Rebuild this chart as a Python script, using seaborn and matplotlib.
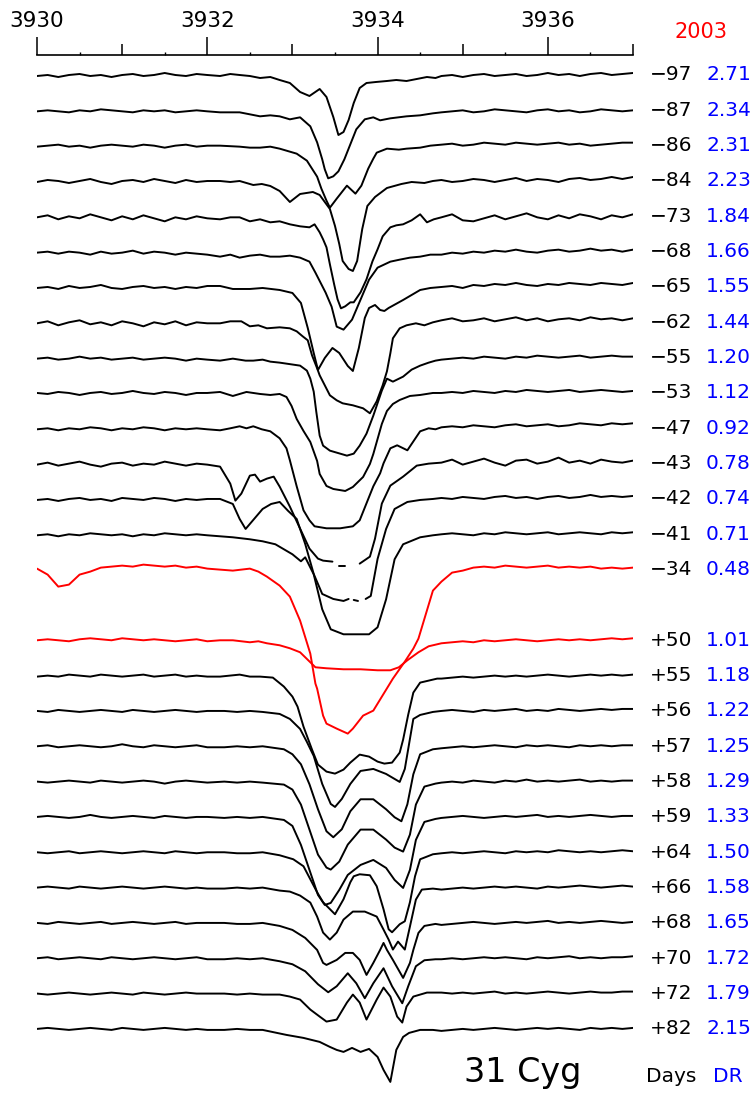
import numpy as np
import pandas as pd
import matplotlib
matplotlib.use("Agg")
import matplotlib.pyplot as plt
import seaborn as sns

sns.set_theme(style="white")
plt.rcParams['font.family'] = ['DejaVu Sans']

# Ca II K region of 31 Cyg, residual flux in percent of the continuum.
# Each spectrum: blue continuum (on WL_LEFT), line region (WL_*, F_*; None = data gap),
# red continuum (on WL_RIGHT).
WL_LEFT = [3930.0 + 0.125 * k for k in range(17)]     # 3930.000 ... 3932.000
WL_RIGHT = [3934.75 + 0.125 * k for k in range(19)]   # 3934.750 ... 3937.000

L_M97 = [99, 100, 98, 100, 101, 99, 100, 98, 100, 101, 99, 100, 102, 100, 99, 101, 100]
WL_M97 = [3932.15, 3932.27, 3932.38, 3932.50, 3932.62, 3932.74, 3932.85, 3932.97, 3933.09, 3933.20, 3933.32, 3933.40, 3933.48, 3933.54, 3933.60, 3933.66, 3933.72, 3933.79, 3933.87, 3933.98, 3934.11, 3934.22, 3934.34, 3934.46, 3934.58, 3934.68]
F_M97 = [99, 101, 100, 99, 97, 98, 95, 92, 83, 79, 86, 78, 58, 40, 43, 55, 72, 87, 92, 93, 94, 95, 94, 96, 98, 97]
R_M97 = [99, 100, 98, 100, 101, 99, 100, 101, 99, 100, 102, 100, 101, 99, 101, 102, 100, 101, 102]

L_M87 = [99, 100, 99, 98, 100, 99, 101, 100, 99, 98, 100, 99, 100, 98, 99, 100, 99]
WL_M87 = [3932.15, 3932.38, 3932.50, 3932.62, 3932.74, 3932.85, 3932.97, 3933.09, 3933.21, 3933.29, 3933.35, 3933.38, 3933.42, 3933.48, 3933.54, 3933.61, 3933.68, 3933.75, 3933.85, 3933.95, 3934.03, 3934.15, 3934.34, 3934.50, 3934.65]
F_M87 = [98, 98, 96, 94, 95, 94, 91, 93, 84, 68, 51, 41, 32, 34, 39, 51, 66, 81, 91, 93, 90, 92, 94, 95, 97]
R_M87 = [98, 99, 100, 98, 99, 101, 100, 99, 98, 100, 101, 99, 100, 98, 99, 101, 100, 99, 100]

L_M86 = [99, 100, 101, 99, 100, 98, 100, 101, 100, 99, 101, 100, 98, 100, 101, 99, 100]
WL_M86 = [3932.15, 3932.38, 3932.50, 3932.62, 3932.74, 3932.85, 3933.05, 3933.17, 3933.29, 3933.34, 3933.40, 3933.44, 3933.52, 3933.64, 3933.74, 3933.81, 3933.89, 3933.95, 3933.99, 3934.11, 3934.25, 3934.34, 3934.50, 3934.62]
F_M86 = [100, 99, 98, 98, 99, 97, 92, 85, 69, 57, 45, 38, 47, 60, 52, 60, 77, 87, 93, 97, 96, 97, 98, 100]
R_M86 = [101, 102, 100, 101, 103, 102, 101, 103, 102, 101, 102, 103, 101, 102, 100, 101, 102, 103, 103]

L_M84 = [99, 101, 100, 98, 100, 102, 99, 97, 100, 101, 99, 102, 100, 98, 101, 99, 100]
WL_M84 = [3932.15, 3932.27, 3932.38, 3932.46, 3932.54, 3932.64, 3932.74, 3932.85, 3932.97, 3933.09, 3933.24, 3933.32, 3933.38, 3933.44, 3933.50, 3933.55, 3933.59, 3933.66, 3933.71, 3933.76, 3933.82, 3933.88, 3933.97, 3934.11, 3934.28, 3934.40, 3934.55, 3934.65]
F_M84 = [100, 99, 100, 98, 96, 97, 95, 90, 79, 87, 89, 86, 79, 72, 55, 37, 20, 12, 10, 20, 52, 75, 84, 93, 97, 99, 98, 100]
R_M84 = [101, 99, 100, 102, 101, 99, 101, 103, 100, 102, 101, 99, 102, 103, 101, 102, 104, 102, 104]

L_M73 = [99, 101, 97, 100, 98, 102, 99, 96, 100, 97, 101, 98, 95, 99, 97, 100, 98]
WL_M73 = [3932.15, 3932.27, 3932.38, 3932.50, 3932.62, 3932.74, 3932.85, 3932.97, 3933.09, 3933.20, 3933.26, 3933.32, 3933.36, 3933.40, 3933.44, 3933.49, 3933.53, 3933.57, 3933.62, 3933.68, 3933.72, 3933.80, 3933.87, 3933.94, 3934.00, 3934.06, 3934.15, 3934.22, 3934.30, 3934.40, 3934.50, 3934.58, 3934.66]
F_M73 = [97, 99, 99, 95, 97, 94, 95, 92, 90, 89, 92, 84, 77, 69, 52, 32, 17, 8, 10, 14, 14, 24, 37, 55, 67, 80, 89, 91, 92, 96, 102, 94, 97]
R_M73 = [99, 102, 96, 95, 98, 101, 97, 100, 103, 99, 97, 101, 98, 102, 100, 97, 101, 99, 102]

L_M68 = [99, 100, 98, 100, 99, 97, 100, 98, 99, 101, 98, 100, 99, 97, 99, 98, 97]
WL_M68 = [3932.15, 3932.27, 3932.38, 3932.50, 3932.62, 3932.74, 3932.85, 3932.97, 3933.09, 3933.20, 3933.27, 3933.39, 3933.46, 3933.52, 3933.60, 3933.70, 3933.80, 3933.90, 3934.00, 3934.15, 3934.26, 3934.38, 3934.50, 3934.62]
F_M68 = [95, 97, 94, 96, 97, 95, 95, 96, 94, 90, 79, 59, 45, 25, 22, 32, 52, 72, 84, 90, 92, 94, 95, 97]
R_M68 = [97, 99, 98, 100, 99, 101, 100, 102, 100, 99, 101, 102, 100, 101, 103, 101, 102, 100, 102]

L_M65 = [99, 100, 98, 101, 99, 100, 102, 99, 98, 100, 101, 99, 100, 98, 100, 99, 101]
WL_M65 = [3932.15, 3932.30, 3932.50, 3932.65, 3932.85, 3933.00, 3933.10, 3933.18, 3933.25, 3933.30, 3933.38, 3933.47, 3933.55, 3933.65, 3933.71, 3933.78, 3933.85, 3933.90, 3933.97, 3934.03, 3934.08, 3934.13, 3934.30, 3934.42, 3934.50, 3934.62]
F_M65 = [101, 98, 98, 99, 97, 94, 84, 59, 34, 17, 29, 39, 34, 21, 16, 39, 69, 79, 82, 77, 76, 79, 87, 93, 97, 99]
R_M65 = [100, 101, 99, 102, 101, 103, 102, 104, 102, 101, 103, 102, 104, 103, 102, 104, 103, 102, 104]

L_M62 = [99, 101, 97, 100, 102, 98, 100, 97, 101, 99, 96, 100, 98, 101, 97, 100, 99]
WL_M62 = [3932.15, 3932.27, 3932.40, 3932.50, 3932.60, 3932.70, 3932.85, 3932.97, 3933.05, 3933.12, 3933.18, 3933.23, 3933.29, 3933.32, 3933.44, 3933.52, 3933.59, 3933.71, 3933.83, 3933.91, 3933.99, 3934.06, 3934.11, 3934.15, 3934.18, 3934.26, 3934.34, 3934.45, 3934.55, 3934.65]
F_M62 = [99, 101, 101, 96, 97, 94, 95, 94, 91, 86, 82, 67, 54, 47, 27, 22, 19, 17, 14, 9, 21, 37, 51, 69, 84, 94, 97, 99, 97, 100]
R_M62 = [102, 104, 101, 102, 104, 101, 103, 105, 102, 104, 101, 103, 104, 102, 105, 103, 104, 102, 104]

L_M55 = [99, 100, 98, 99, 101, 99, 100, 98, 99, 100, 98, 99, 100, 99, 97, 99, 98]
WL_M55 = [3932.15, 3932.30, 3932.45, 3932.54, 3932.65, 3932.74, 3932.85, 3932.93, 3933.09, 3933.17, 3933.21, 3933.25, 3933.28, 3933.32, 3933.36, 3933.44, 3933.56, 3933.64, 3933.72, 3933.79, 3933.87, 3933.95, 3933.99, 3934.05, 3934.11, 3934.18, 3934.30, 3934.40, 3934.50, 3934.60, 3934.68]
F_M55 = [97, 99, 97, 97, 98, 96, 95, 94, 92, 87, 79, 66, 46, 22, 12, 7, 4, 2, 4, 12, 24, 42, 52, 67, 79, 76, 81, 88, 92, 95, 97]
R_M55 = [98, 99, 100, 99, 101, 100, 99, 101, 100, 102, 101, 100, 101, 102, 100, 101, 102, 101, 101]

L_M53 = [100, 99, 101, 100, 98, 100, 101, 99, 100, 102, 100, 99, 101, 100, 98, 100, 100]
WL_M53 = [3932.15, 3932.30, 3932.46, 3932.62, 3932.74, 3932.85, 3932.93, 3932.99, 3933.05, 3933.13, 3933.21, 3933.29, 3933.32, 3933.40, 3933.48, 3933.62, 3933.71, 3933.83, 3933.91, 3933.95, 3934.00, 3934.05, 3934.11, 3934.18, 3934.26, 3934.38, 3934.50, 3934.65]
F_M53 = [101, 97, 101, 99, 98, 99, 96, 87, 74, 62, 51, 32, 19, 7, 4, 2, 6, 16, 29, 39, 54, 69, 82, 89, 93, 97, 98, 100]
R_M53 = [100, 101, 100, 102, 101, 100, 102, 101, 103, 102, 101, 102, 103, 101, 102, 103, 102, 101, 102]

L_M47 = [99, 100, 98, 100, 99, 101, 100, 98, 100, 99, 101, 100, 98, 100, 99, 100, 99]
WL_M47 = [3932.15, 3932.27, 3932.38, 3932.46, 3932.54, 3932.64, 3932.74, 3932.85, 3932.93, 3932.97, 3933.05, 3933.13, 3933.20, 3933.26, 3933.40, 3933.56, 3933.71, 3933.79, 3933.87, 3933.95, 3934.03, 3934.07, 3934.15, 3934.23, 3934.35, 3934.50, 3934.60, 3934.68]
F_M47 = [98, 100, 102, 100, 102, 99, 97, 90, 80, 68, 42, 18, 8, 2, 0, 0, 2, 8, 25, 42, 55, 65, 80, 83, 78, 97, 100, 99]
R_M47 = [101, 102, 101, 103, 102, 101, 103, 104, 102, 103, 104, 102, 103, 105, 104, 103, 105, 104, 105]

L_M43 = [99, 101, 98, 100, 102, 99, 97, 100, 101, 98, 100, 99, 102, 100, 98, 100, 99]
WL_M43 = [3932.15, 3932.27, 3932.33, 3932.40, 3932.50, 3932.56, 3932.62, 3932.70, 3932.78, 3932.85, 3932.97, 3933.09, 3933.20, 3933.30, 3933.36, 3933.47, None, 3933.55, 3933.62, None, 3933.79, 3933.91, 3933.97, 3934.05, 3934.15, 3934.30, 3934.46, 3934.60]
F_M43 = [97, 80, 63, 70, 88, 89, 82, 85, 87, 77, 57, 35, 15, 5, 3, 2, None, -2, -2, None, 0, 7, 25, 60, 78, 87, 98, 100]
R_M43 = [101, 104, 99, 102, 105, 101, 98, 103, 104, 100, 102, 106, 101, 103, 100, 104, 102, 101, 103]

L_M42 = [99, 100, 98, 100, 101, 99, 100, 98, 101, 100, 99, 101, 100, 98, 100, 99, 100]
WL_M42 = [3932.15, 3932.30, 3932.38, 3932.45, 3932.55, 3932.65, 3932.75, 3932.85, 3932.95, 3933.05, 3933.15, 3933.25, 3933.35, 3933.48, 3933.60, 3933.66, None, 3933.72, 3933.77, None, 3933.86, 3933.92, 3934.00, 3934.10, 3934.20, 3934.35, 3934.50, 3934.65]
F_M42 = [100, 95, 80, 70, 80, 90, 95, 97, 88, 80, 55, 25, 5, 0, -2, 0, None, -1, -2, None, 0, 3, 40, 70, 90, 97, 99, 100]
R_M42 = [101, 100, 102, 101, 100, 102, 103, 101, 102, 100, 102, 103, 101, 102, 104, 102, 103, 102, 103]

L_M41 = [99, 100, 98, 100, 99, 101, 100, 99, 100, 98, 100, 99, 101, 100, 99, 100, 99]
WL_M41 = [3932.15, 3932.30, 3932.50, 3932.65, 3932.80, 3933.00, 3933.10, 3933.15, 3933.25, 3933.35, 3933.45, 3933.60, 3933.90, 3934.00, 3934.10, 3934.20, 3934.30, 3934.50, 3934.65]
F_M41 = [98, 97, 95, 93, 90, 80, 73, 77, 60, 25, 5, 0, 0, 7, 35, 75, 90, 97, 99]
R_M41 = [100, 101, 100, 99, 101, 100, 102, 101, 100, 101, 102, 100, 101, 102, 101, 100, 102, 101, 102]

L_M34 = [101, 95, 83, 85, 95, 98, 102, 103, 104, 103, 105, 104, 103, 104, 102, 103, 101]
WL_M34 = [3932.15, 3932.30, 3932.40, 3932.50, 3932.60, 3932.70, 3932.85, 3932.97, 3933.09, 3933.21, 3933.27, 3933.29, 3933.36, 3933.40, 3933.52, 3933.65, 3933.71, 3933.83, 3933.95, 3934.18, 3934.32, 3934.42, 3934.48, 3934.65]
F_M34 = [100, 99, 100, 101, 98, 93, 84, 73, 49, 16, -14, -19, -46, -54, -59, -64, -59, -46, -41, -9, 8, 21, 31, 79]
R_M34 = [88, 97, 99, 102, 103, 102, 104, 103, 102, 103, 104, 102, 103, 102, 103, 101, 102, 101, 102]

L_P50 = [100, 101, 100, 99, 101, 102, 101, 100, 102, 101, 100, 101, 100, 99, 100, 101, 99]
WL_P50 = [3932.15, 3932.30, 3932.50, 3932.60, 3932.70, 3932.85, 3932.97, 3933.09, 3933.21, 3933.27, 3933.40, 3933.60, 3933.80, 3934.00, 3934.15, 3934.25, 3934.35, 3934.48, 3934.60, 3934.70]
F_P50 = [100, 100, 98, 99, 97, 95, 92, 88, 78, 73, 72, 71, 71, 70, 70, 73, 80, 88, 94, 96]
R_P50 = [97, 98, 99, 98, 100, 99, 100, 101, 100, 99, 100, 101, 100, 101, 100, 101, 102, 101, 102]

L_P55 = [99, 100, 99, 101, 100, 99, 101, 100, 99, 100, 101, 99, 100, 101, 99, 100, 99]
WL_P55 = [3932.15, 3932.38, 3932.50, 3932.62, 3932.77, 3932.90, 3933.00, 3933.06, 3933.13, 3933.23, 3933.30, 3933.40, 3933.50, 3933.60, 3933.68, 3933.79, 3933.90, 3934.00, 3934.08, 3934.17, 3934.26, 3934.30, 3934.36, 3934.42, 3934.50, 3934.60, 3934.70]
F_P55 = [99, 101, 99, 99, 98, 89, 79, 69, 49, 26, 11, 4, 2, 6, 13, 21, 19, 14, 12, 13, 23, 36, 61, 83, 93, 95, 97]
R_P55 = [97, 98, 99, 98, 99, 100, 99, 100, 99, 100, 101, 100, 99, 100, 101, 100, 101, 100, 101]

L_P56 = [100, 99, 101, 100, 99, 100, 101, 100, 99, 101, 100, 99, 100, 101, 100, 99, 100]
WL_P56 = [3932.20, 3932.35, 3932.50, 3932.65, 3932.85, 3932.97, 3933.09, 3933.17, 3933.25, 3933.35, 3933.45, 3933.50, 3933.58, 3933.68, 3933.80, 3933.95, 3934.10, 3934.20, 3934.26, 3934.32, 3934.38, 3934.42, 3934.50, 3934.65]
F_P56 = [100, 99, 100, 99, 97, 92, 82, 69, 55, 27, 7, 4, 12, 27, 40, 42, 37, 32, 29, 42, 72, 92, 96, 99]
R_P56 = [100, 101, 100, 99, 101, 100, 101, 102, 100, 101, 100, 102, 101, 100, 101, 102, 101, 102, 102]

L_P57 = [100, 101, 99, 100, 101, 100, 99, 100, 102, 100, 99, 101, 100, 99, 100, 101, 99]
WL_P57 = [3932.20, 3932.35, 3932.50, 3932.65, 3932.90, 3933.00, 3933.10, 3933.20, 3933.30, 3933.40, 3933.48, 3933.58, 3933.68, 3933.80, 3933.95, 3934.10, 3934.20, 3934.28, 3934.35, 3934.42, 3934.50, 3934.65]
F_P57 = [99, 100, 99, 100, 97, 92, 82, 62, 37, 15, 9, 17, 35, 47, 47, 37, 29, 25, 42, 72, 92, 97]
R_P57 = [98, 99, 100, 99, 100, 101, 100, 99, 101, 100, 101, 100, 99, 101, 100, 101, 100, 101, 101]

L_P58 = [100, 99, 100, 101, 100, 99, 101, 100, 99, 100, 101, 100, 98, 100, 101, 100, 99]
WL_P58 = [3932.20, 3932.35, 3932.50, 3932.65, 3932.90, 3933.00, 3933.10, 3933.20, 3933.30, 3933.40, 3933.45, 3933.55, 3933.65, 3933.80, 3933.95, 3934.10, 3934.20, 3934.30, 3934.38, 3934.45, 3934.55, 3934.68]
F_P58 = [100, 99, 100, 99, 97, 92, 77, 52, 27, 14, 12, 20, 37, 52, 52, 42, 34, 30, 47, 77, 95, 98]
R_P58 = [99, 100, 99, 101, 100, 99, 101, 100, 102, 100, 101, 100, 101, 102, 100, 101, 100, 101, 101]

L_P59 = [100, 101, 100, 99, 100, 102, 100, 99, 100, 101, 100, 99, 101, 100, 99, 100, 100]
WL_P59 = [3932.20, 3932.35, 3932.50, 3932.65, 3932.90, 3933.00, 3933.10, 3933.20, 3933.30, 3933.38, 3933.45, 3933.55, 3933.65, 3933.80, 3933.95, 3934.10, 3934.20, 3934.30, 3934.38, 3934.45, 3934.55, 3934.68]
F_P59 = [99, 100, 99, 100, 97, 91, 72, 47, 22, 12, 14, 27, 42, 52, 57, 49, 37, 29, 47, 77, 95, 98]
R_P59 = [99, 100, 101, 100, 99, 100, 101, 100, 101, 102, 100, 101, 100, 101, 102, 101, 100, 101, 101]

L_P64 = [100, 99, 100, 101, 99, 100, 101, 100, 99, 100, 101, 100, 99, 101, 100, 99, 100]
WL_P64 = [3932.20, 3932.35, 3932.50, 3932.65, 3932.85, 3933.01, 3933.13, 3933.21, 3933.29, 3933.36, 3933.50, 3933.60, 3933.68, 3933.72, 3933.79, 3933.91, 3933.99, 3934.07, 3934.13, 3934.17, 3934.26, 3934.32, 3934.38, 3934.44, 3934.50, 3934.65]
F_P64 = [100, 99, 99, 100, 97, 93, 86, 73, 60, 50, 38, 53, 70, 76, 78, 77, 66, 43, 23, 20, 28, 31, 50, 76, 93, 98]
R_P64 = [99, 100, 99, 100, 101, 100, 99, 101, 100, 101, 100, 102, 101, 100, 101, 100, 101, 102, 101]

L_P66 = [100, 101, 100, 99, 101, 100, 99, 100, 101, 100, 99, 100, 101, 100, 99, 100, 99]
WL_P66 = [3932.20, 3932.35, 3932.50, 3932.65, 3932.85, 3932.97, 3933.09, 3933.21, 3933.29, 3933.36, 3933.44, 3933.52, 3933.60, 3933.71, 3933.85, 3933.99, 3934.07, 3934.13, 3934.18, 3934.24, 3934.32, 3934.38, 3934.45, 3934.52, 3934.65]
F_P66 = [99, 100, 99, 100, 97, 96, 92, 85, 71, 55, 48, 55, 68, 76, 76, 71, 58, 48, 38, 46, 38, 61, 88, 98, 99]
R_P66 = [98, 99, 100, 99, 100, 101, 100, 101, 100, 99, 101, 100, 101, 102, 101, 100, 101, 102, 101]

L_P68 = [100, 99, 101, 100, 99, 100, 101, 99, 100, 101, 100, 99, 100, 101, 99, 100, 100]
WL_P68 = [3932.20, 3932.35, 3932.50, 3932.65, 3932.85, 3933.00, 3933.15, 3933.29, 3933.36, 3933.40, 3933.52, 3933.62, 3933.71, 3933.79, 3933.87, 3933.95, 3934.03, 3934.07, 3934.11, 3934.18, 3934.30, 3934.38, 3934.42, 3934.48, 3934.55, 3934.68]
F_P68 = [100, 99, 99, 100, 97, 93, 85, 73, 60, 58, 63, 70, 70, 63, 48, 60, 73, 80, 73, 63, 45, 60, 73, 90, 97, 99]
R_P68 = [98, 99, 100, 101, 100, 99, 100, 101, 100, 101, 102, 100, 101, 100, 101, 102, 101, 100, 101]

L_P70 = [100, 101, 99, 100, 101, 100, 99, 101, 100, 99, 100, 101, 100, 99, 100, 101, 99]
WL_P70 = [3932.20, 3932.35, 3932.50, 3932.65, 3932.85, 3933.00, 3933.15, 3933.30, 3933.42, 3933.52, 3933.65, 3933.75, 3933.85, 3933.95, 3934.07, 3934.17, 3934.29, 3934.36, 3934.45, 3934.55, 3934.68]
F_P70 = [99, 100, 99, 100, 97, 94, 87, 74, 66, 72, 85, 75, 60, 75, 90, 72, 55, 72, 92, 98, 99]
R_P70 = [99, 100, 99, 100, 101, 100, 101, 100, 99, 101, 100, 101, 102, 100, 101, 100, 101, 101, 102]

L_P72 = [100, 99, 100, 101, 100, 99, 100, 101, 100, 99, 101, 100, 99, 100, 101, 100, 100]
WL_P72 = [3932.20, 3932.35, 3932.50, 3932.65, 3932.85, 3932.97, 3933.09, 3933.21, 3933.32, 3933.40, 3933.52, 3933.64, 3933.71, 3933.79, 3933.87, 3933.99, 3934.07, 3934.15, 3934.23, 3934.29, 3934.34, 3934.42, 3934.58]
F_P72 = [100, 99, 100, 99, 99, 97, 94, 84, 77, 72, 74, 91, 99, 91, 74, 94, 106, 97, 77, 71, 87, 97, 101]
R_P72 = [101, 100, 101, 100, 101, 102, 100, 101, 100, 101, 102, 101, 100, 101, 102, 101, 101, 102, 102]

L_P82 = [100, 101, 100, 99, 100, 101, 100, 99, 101, 100, 99, 100, 101, 100, 99, 100, 99]
WL_P82 = [3932.20, 3932.35, 3932.50, 3932.65, 3932.93, 3933.13, 3933.32, 3933.44, 3933.52, 3933.60, 3933.70, 3933.80, 3933.90, 3934.00, 3934.07, 3934.15, 3934.22, 3934.30, 3934.37, 3934.50, 3934.65]
F_P82 = [99, 100, 99, 99, 94, 91, 87, 82, 79, 77, 81, 77, 80, 72, 59, 47, 79, 92, 96, 99, 99]
R_P82 = [98, 99, 100, 99, 100, 101, 100, 99, 100, 101, 100, 101, 100, 99, 101, 100, 101, 100, 101]

SPECTRA = [
    (L_M97, WL_M97, F_M97, R_M97), (L_M87, WL_M87, F_M87, R_M87),
    (L_M86, WL_M86, F_M86, R_M86), (L_M84, WL_M84, F_M84, R_M84),
    (L_M73, WL_M73, F_M73, R_M73), (L_M68, WL_M68, F_M68, R_M68),
    (L_M65, WL_M65, F_M65, R_M65), (L_M62, WL_M62, F_M62, R_M62),
    (L_M55, WL_M55, F_M55, R_M55), (L_M53, WL_M53, F_M53, R_M53),
    (L_M47, WL_M47, F_M47, R_M47), (L_M43, WL_M43, F_M43, R_M43),
    (L_M42, WL_M42, F_M42, R_M42), (L_M41, WL_M41, F_M41, R_M41),
    (L_M34, WL_M34, F_M34, R_M34), (L_P50, WL_P50, F_P50, R_P50),
    (L_P55, WL_P55, F_P55, R_P55), (L_P56, WL_P56, F_P56, R_P56),
    (L_P57, WL_P57, F_P57, R_P57), (L_P58, WL_P58, F_P58, R_P58),
    (L_P59, WL_P59, F_P59, R_P59), (L_P64, WL_P64, F_P64, R_P64),
    (L_P66, WL_P66, F_P66, R_P66), (L_P68, WL_P68, F_P68, R_P68),
    (L_P70, WL_P70, F_P70, R_P70), (L_P72, WL_P72, F_P72, R_P72),
    (L_P82, WL_P82, F_P82, R_P82),
]
DAYS = ["\u221297", "\u221287", "\u221286", "\u221284", "\u221273", "\u221268", "\u221265",
        "\u221262", "\u221255", "\u221253", "\u221247", "\u221243", "\u221242", "\u221241",
        "\u221234", "+50", "+55", "+56", "+57", "+58", "+59", "+64", "+66", "+68",
        "+70", "+72", "+82"]
DR = ["2.71", "2.34", "2.31", "2.23", "1.84", "1.66", "1.55", "1.44", "1.20", "1.12",
      "0.92", "0.78", "0.74", "0.71", "0.48", "1.01", "1.18", "1.22", "1.25", "1.29",
      "1.33", "1.50", "1.58", "1.65", "1.72", "1.79", "2.15"]
YEAR_2003 = {"\u221234", "+50"}
LABELED_TICKS = [3930, 3932, 3934, 3936]
ODD_TICKS = [3931, 3933, 3935, 3937]
HALF_TICKS = [3930.5, 3931.5, 3932.5, 3933.5, 3934.5, 3935.5, 3936.5]


def spectrum_frame(left, wl, fx, right, shift):
    """Table of one spectrum; a None entry starts a new segment (gap in the data)."""
    waves = list(WL_LEFT) + list(wl) + list(WL_RIGHT)
    flux = list(left) + list(fx) + list(right)
    rows, seg = [], 0
    for w, f in zip(waves, flux):
        if w is None:
            seg += 1
            continue
        rows.append((w, f / 100.0 - shift, seg))
    return pd.DataFrame(rows, columns=["wl", "flux", "seg"])


W, H = 755, 1095
STEP = 0.3533           # vertical shift between consecutive spectra
fig = plt.figure(figsize=(W / 100, H / 100), dpi=100)
ax = fig.add_axes([37 / W, 0, (633 - 37) / W, 1 - 55 / H])
tr = ax.get_yaxis_transform()

slot = 0
for (left, wl, fx, right), day, dr in zip(SPECTRA, DAYS, DR):
    if day == "+50":
        slot += 1          # extra space between the two seasons
    color = "#ff0000" if day in YEAR_2003 else "black"
    shift = slot * STEP
    df = spectrum_frame(left, wl, fx, right, shift)
    sns.lineplot(data=df, x="wl", y="flux", units="seg", ax=ax, color=color,
                 lw=1.4, sort=False, estimator=None)
    ax.text((692 - 37) / 596, 1.0 - shift, day, transform=tr, ha="right",
            va="center", fontsize=14.5, color="black", clip_on=False)
    ax.text((706 - 37) / 596, 1.0 - shift, dr, transform=tr, ha="left",
            va="center", fontsize=14.5, color="#0000ff", clip_on=False)
    slot += 1

ax.set_xlim(3930, 3937)
ax.set_ylim(-9.20, 1.20)
ax.set_xlabel("")
ax.set_ylabel("")
ax.set_yticks([])
for side in ["left", "right", "bottom"]:
    ax.spines[side].set_visible(False)
ax.spines["top"].set_visible(True)
ax.spines["top"].set_color("black")
ax.spines["top"].set_linewidth(1.2)
ax.xaxis.tick_top()
ax.set_xticks(LABELED_TICKS)
ax.set_xticks(ODD_TICKS, minor=True)
ax.tick_params(axis="x", which="major", direction="out", length=13, width=1.1,
               labelsize=15.5, pad=4, colors="black")
ax.tick_params(axis="x", which="minor", direction="out", length=8, width=1.1,
               colors="black")
# short marks half-way between the integer ticks
ax.vlines(HALF_TICKS, 1.0, 1.0 + 3 / 1040, transform=ax.get_xaxis_transform(),
          color="black", lw=1.0, clip_on=False)
ax.set_facecolor("white")

fig.text(701 / W, 1 - 32 / H, "2003", color="#ff0000", fontsize=15,
         ha="center", va="center")
fig.text(523 / W, 1 - 1082 / H, "31 Cyg", color="black", fontsize=24,
         ha="center", va="baseline")
fig.text(671 / W, 1 - 1082 / H, "Days", color="black", fontsize=14.5,
         ha="center", va="baseline")
fig.text(728 / W, 1 - 1082 / H, "DR", color="#0000ff", fontsize=14.5,
         ha="center", va="baseline")

fig.savefig("out.png", dpi=100, facecolor="white")
